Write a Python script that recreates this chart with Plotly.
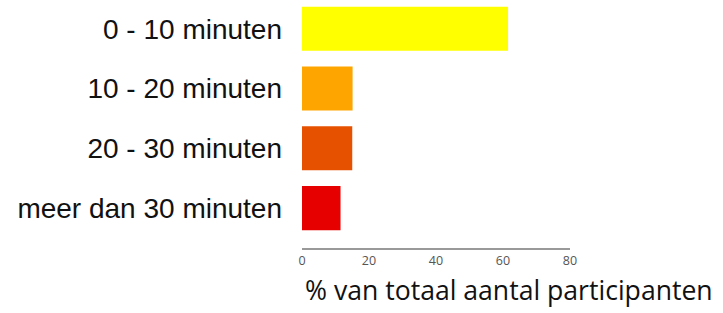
import plotly.graph_objects as go

categories = ["0 - 10 minuten", "10 - 20 minuten", "20 - 30 minuten", "meer dan 30 minuten"]
values = [61.5, 15.1, 15.0, 11.5]
colors = ["#ffff00", "#ffa500", "#e65100", "#e60000"]
x_ticks = [0, 20, 40, 60, 80]
x_title = "% van totaal aantal participanten"

fig = go.Figure(go.Bar(
    x=values, y=categories, orientation="h",
    marker=dict(color=colors, line=dict(width=0)),
    width=0.737,
))

fig.update_layout(
    width=723, height=313,
    margin=dict(l=302, r=153, t=0, b=65),
    plot_bgcolor="white", paper_bgcolor="white",
    showlegend=False,
)
fig.update_xaxes(
    range=[0, 80], tickvals=x_ticks, showgrid=False, zeroline=False,
    showline=True, linecolor="#999999", linewidth=2, automargin=False,
    ticks="", tickfont=dict(family="Open Sans", size=12.5, color="#555555"),
)
fig.update_yaxes(
    range=[3.667, -0.481], showgrid=False, zeroline=False, showline=False,
    ticks="", ticklabelstandoff=19, automargin=False,
    tickfont=dict(family="Liberation Sans", size=28, color="#111111"),
)
fig.add_annotation(
    text=x_title, xref="x", yref="paper", x=0, y=0, xanchor="left", yanchor="top",
    yshift=-22, xshift=1, showarrow=False,
    font=dict(family="Open Sans", size=26.6, color="#111111"),
)

fig.write_html("out.html", config={"displayModeBar": False},
               post_script="document.body.style.margin='0';")
